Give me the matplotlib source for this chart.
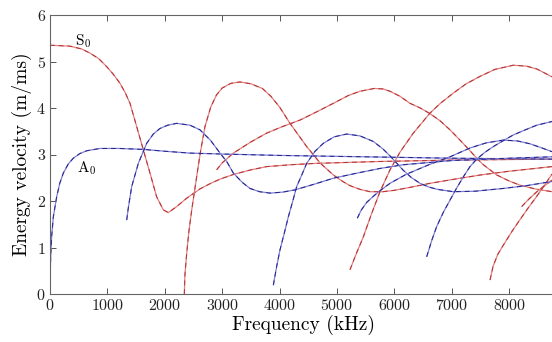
import matplotlib
matplotlib.use('Agg')
import matplotlib.pyplot as plt

# Lamb wave energy velocity curves
# frequency in kHz, energy velocity in m/ms

# symmetric modes (red)
s0_f = [0, 348, 550, 697, 850, 987, 1100, 1220, 1310, 1394, 1510, 1626, 1742, 1858, 1974, 2061, 2207, 2381, 2613, 2800, 2962,
        3194, 3500, 3775, 4200, 4646, 5749, 7000, 8746]
s0_v = [5.35, 5.33, 5.27, 5.18, 5.06, 4.89, 4.73, 4.53, 4.33, 4.1, 3.6, 3.1, 2.6, 2.09, 1.81, 1.75, 1.88, 2.06, 2.26, 2.38, 2.47,
        2.57, 2.67, 2.74, 2.78, 2.81, 2.85, 2.88, 2.9]

s1_f = [2340, 2350, 2381, 2420, 2468, 2555, 2620, 2700, 2800, 2900, 3000, 3150, 3310, 3500, 3700, 3850, 4000, 4181, 4350, 4472,
        4704, 4936, 5100, 5226, 5400, 5575, 5800, 6000, 6300, 6620, 7000, 7500, 8000, 8746]
s1_v = [0.0, 0.4, 0.87, 1.35, 1.8, 2.52, 3.05, 3.6, 4.02, 4.28, 4.43, 4.53, 4.56, 4.52, 4.42, 4.25, 4.02, 3.67, 3.38, 3.17,
        2.82, 2.56, 2.42, 2.33, 2.25, 2.2, 2.2, 2.23, 2.3, 2.38, 2.46, 2.56, 2.64, 2.74]

s2_f = [2903, 3000, 3194, 3500, 3775, 4050, 4355, 4650, 4936, 5200, 5400, 5650, 5800, 5923, 6100, 6272, 6450, 6620, 6800, 6969,
        7150, 7317, 7450, 7549, 7782, 8000, 8188, 8450, 8746]
s2_v = [2.67, 2.82, 3.03, 3.27, 3.46, 3.6, 3.74, 3.92, 4.1, 4.27, 4.36, 4.42, 4.41, 4.36, 4.25, 4.1, 4.0, 3.88, 3.72, 3.53,
        3.3, 3.08, 2.9, 2.78, 2.56, 2.43, 2.34, 2.26, 2.2]

s3_f = [5226, 5340, 5459, 5600, 5749, 5923, 6097, 6329, 6620, 6800, 7026, 7250, 7491, 7750, 8071, 8300, 8479, 8746]
s3_v = [0.52, 0.88, 1.23, 1.72, 2.2, 2.67, 3.05, 3.46, 3.89, 4.1, 4.32, 4.52, 4.68, 4.83, 4.92, 4.9, 4.84, 4.67]

s4_f = [7666, 7720, 7800, 7897, 8050, 8188, 8330, 8479, 8620, 8746]
s4_v = [0.3, 0.6, 0.85, 1.05, 1.35, 1.6, 1.85, 2.1, 2.35, 2.58]

s5_f = [8217, 8350, 8500, 8650, 8746]
s5_v = [1.88, 2.05, 2.22, 2.36, 2.45]

# antisymmetric modes (blue)
a0_f = [0, 15, 30, 58, 116, 170, 232, 320, 406, 520, 639, 871, 1200, 1626, 2000, 2439, 3000, 4000, 5000, 6000, 7000, 8000, 8746]
a0_v = [0.3, 0.9, 1.25, 1.66, 2.09, 2.38, 2.6, 2.8, 2.92, 3.02, 3.08, 3.13, 3.13, 3.11, 3.07, 3.03, 3.01, 2.98, 2.96, 2.94, 2.92, 2.91, 2.9]

a1_f = [1336, 1364, 1423, 1539, 1684, 1800, 1916, 2050, 2207, 2439, 2613, 2800, 2962, 3078, 3194, 3350, 3484, 3650, 3833, 4050,
        4268, 4600, 4936, 5350, 5749, 6155, 7000, 8000, 8746]
a1_v = [1.59, 1.85, 2.31, 2.81, 3.24, 3.44, 3.56, 3.63, 3.67, 3.63, 3.53, 3.3, 3.03, 2.85, 2.6, 2.4, 2.27, 2.2, 2.17, 2.19,
        2.24, 2.36, 2.49, 2.6, 2.7, 2.78, 2.87, 2.92, 2.95]

a2_f = [3891, 3950, 4007, 4080, 4152, 4230, 4297, 4400, 4472, 4617, 4762, 4950, 5168, 5400, 5633, 5800, 5923, 6050, 6155, 6300,
        6446, 6600, 6750, 7026, 7400, 7897, 8300, 8746]
a2_v = [0.19, 0.6, 0.95, 1.3, 1.66, 2.0, 2.31, 2.6, 2.81, 3.07, 3.24, 3.38, 3.44, 3.4, 3.28, 3.12, 2.97, 2.8, 2.66, 2.5,
        2.38, 2.3, 2.25, 2.2, 2.21, 2.27, 2.33, 2.42]

a3_f = [5354, 5420, 5517, 5650, 5749, 5923, 6200, 6600, 6969, 7317, 7600, 7897, 8150, 8362, 8550, 8746]
a3_v = [1.63, 1.8, 1.97, 2.12, 2.22, 2.38, 2.57, 2.78, 2.95, 3.14, 3.25, 3.31, 3.29, 3.23, 3.15, 3.06]

a4_f = [6562, 6650, 6736, 6850, 6969, 7085, 7201, 7317, 7433, 7580, 7723, 7900, 8071, 8280, 8479, 8746]
a4_v = [0.8, 1.15, 1.45, 1.75, 2.02, 2.28, 2.52, 2.74, 2.9, 3.05, 3.17, 3.3, 3.42, 3.53, 3.63, 3.71]

sym_modes = [(s0_f, s0_v), (s1_f, s1_v), (s2_f, s2_v), (s3_f, s3_v), (s4_f, s4_v), (s5_f, s5_v)]
anti_modes = [(a0_f, a0_v), (a1_f, a1_v), (a2_f, a2_v), (a3_f, a3_v), (a4_f, a4_v)]

x_ticks = [0, 1000, 2000, 3000, 4000, 5000, 6000, 7000, 8000]
y_ticks = [0, 1, 2, 3, 4, 5, 6]

plt.rcParams['font.family'] = 'serif'
plt.rcParams['font.serif'] = ['cmr10']
plt.rcParams['mathtext.fontset'] = 'cm'
plt.rcParams['axes.formatter.use_mathtext'] = True

fig = plt.figure(figsize=(5.52, 3.42), dpi=100)
ax = fig.add_axes([50 / 552, 48 / 342, 508 / 552, 279 / 342])

for f, v in sym_modes:
    ax.plot(f, v, color='#e08080', lw=0.9, solid_capstyle='butt', solid_joinstyle='round')
    ax.plot(f, v, color='#b83030', lw=0.7, ls=(0, (5, 4)))
for f, v in anti_modes:
    ax.plot(f, v, color='#8080d0', lw=0.9, solid_capstyle='butt', solid_joinstyle='round')
    ax.plot(f, v, color='#222290', lw=0.7, ls=(0, (5, 4)))

ax.text(435, 5.44, r'$\mathrm{S}_0$', fontsize=11, va='center', ha='left')
ax.text(465, 2.7, r'$\mathrm{A}_0$', fontsize=11, va='center', ha='left')

ax.set_xlim(0, 8850)
ax.set_ylim(0, 6)
ax.set_xticks(x_ticks)
ax.set_yticks(y_ticks)
ax.tick_params(direction='in', top=True, right=False, length=4, width=0.7,
               colors='#555555', labelcolor='#222222', labelsize=11.5, pad=3)
for side in ['left', 'bottom', 'top']:
    ax.spines[side].set_color('#666666')
    ax.spines[side].set_linewidth(0.8)
ax.spines['right'].set_visible(False)

ax.set_xlabel('Frequency (kHz)', fontsize=14, labelpad=1)
ax.set_ylabel('Energy velocity (m/ms)', fontsize=14, labelpad=3)

fig.savefig('out.png', dpi=100)
